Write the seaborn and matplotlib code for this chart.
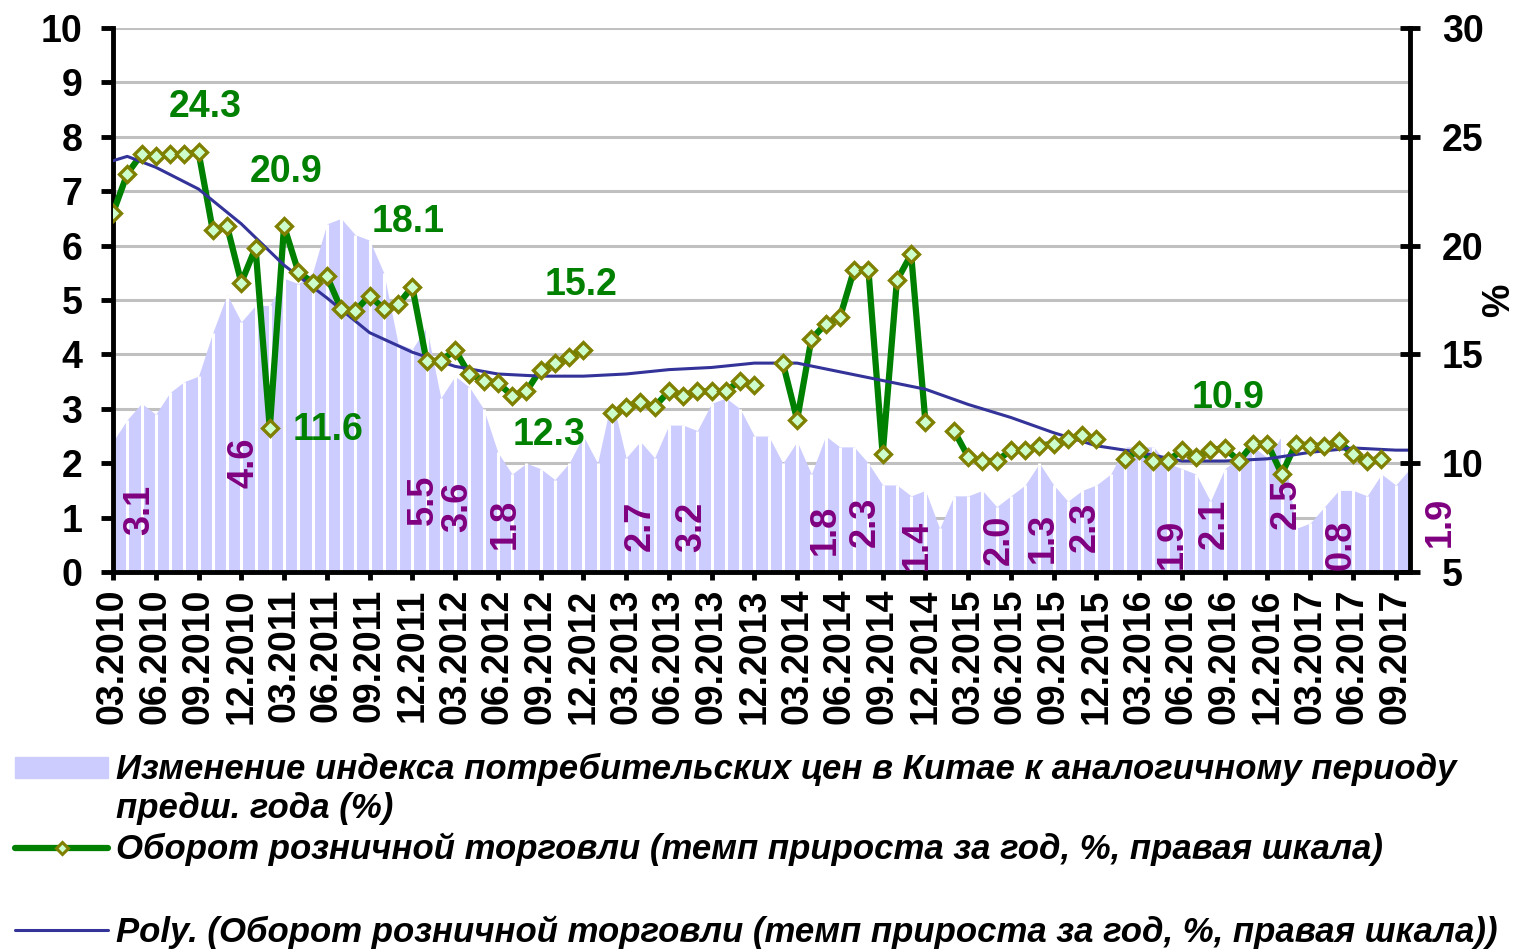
import numpy as np
import pandas as pd
import matplotlib
matplotlib.use("Agg")
from matplotlib import pyplot as plt
from matplotlib.lines import Line2D
from matplotlib.patches import Rectangle
import seaborn as sns

# monthly categories 03.2010 .. 10.2017
months = pd.date_range("2010-03-01", "2017-10-01", freq="MS")

# CPI, % y/y (left axis)
cpi = [2.4, 2.8, 3.1, 2.9, 3.3, 3.5, 3.6, 4.4, 5.1, 4.6,
       4.9, 4.9, 5.4, 5.3, 5.5, 6.4, 6.5, 6.2, 6.1, 5.5, 4.2, 4.1,
       4.5, 3.2, 3.6, 3.4, 3.0, 2.2, 1.8, 2.0, 1.9, 1.7, 2.0, 2.5,
       2.0, 3.2, 2.1, 2.4, 2.1, 2.7, 2.7, 2.6, 3.1, 3.2, 3.0, 2.5,
       2.5, 2.0, 2.4, 1.8, 2.5, 2.3, 2.3, 2.0, 1.6, 1.6, 1.4, 1.5,
       0.8, 1.4, 1.4, 1.5, 1.2, 1.4, 1.6, 2.0, 1.6, 1.3, 1.5, 1.6,
       1.8, 2.3, 2.3, 2.3, 2.0, 1.9, 1.8, 1.3, 1.9, 2.1, 2.3, 2.1,
       2.5, 0.8, 0.9, 1.2, 1.5, 1.5, 1.4, 1.8, 1.6, 1.9]

# retail sales growth, % (right axis); nan = no January figure
nan = np.nan
retail = [21.5, 23.3, 24.2, 24.1, 24.2, 24.2, 24.3, 20.7, 20.9, 18.3,
          19.9, 11.6, 20.9, 18.8, 18.3, 18.6, 17.1, 17.0, 17.7, 17.1, 17.3, 18.1,
          14.7, 14.7, 15.2, 14.1, 13.8, 13.7, 13.1, 13.3, 14.3, 14.6, 14.9, 15.2,
          nan, 12.3, 12.6, 12.8, 12.6, 13.3, 13.1, 13.3, 13.3, 13.3, 13.8, 13.6,
          nan, 14.6, 12.0, 15.7, 16.4, 16.7, 18.9, 18.9, 10.4, 18.4, 19.6, 11.9,
          nan, 11.5, 10.3, 10.1, 10.1, 10.6, 10.6, 10.8, 10.9, 11.1, 11.3, 11.1,
          nan, 10.2, 10.6, 10.1, 10.1, 10.6, 10.3, 10.6, 10.7, 10.1, 10.9, 10.9,
          9.5, 10.9, 10.8, 10.8, 11.0, 10.4, 10.1, 10.2, nan, nan]

# polynomial trend (month index, value)
trend_idx = [0, 1, 3, 6, 9, 12, 15, 18, 21, 24, 27, 30, 33, 36, 39, 42, 45,
             48, 51, 54, 57, 60, 63, 66, 69, 72, 75, 78, 81, 84, 87, 90, 91]
trend_val = [23.9, 24.1, 23.6, 22.6, 21.0, 19.1, 17.6, 16.0, 15.1, 14.45, 14.1,
             14.0, 14.0, 14.1, 14.3, 14.4, 14.6, 14.6, 14.2, 13.8, 13.4, 12.7,
             12.1, 11.4, 10.8, 10.5, 10.1, 10.1, 10.2, 10.5, 10.7, 10.6, 10.6]

# data labels
green_lbl = ["24.3", "20.9", "18.1", "15.2", "11.6", "12.3", "10.9"]
green_x = [6.46, 12.14, 20.7, 32.84, 15.09, 30.6, 78.25]
green_y = [26.37, 23.38, 21.08, 18.19, 11.53, 11.3, 13.0]

purple_lbl = ["3.1", "4.6", "5.5", "3.6", "1.8", "2.7", "3.2", "1.8", "2.3",
              "1.4", "2.0", "1.3", "2.3", "1.9", "2.1", "2.5", "0.8", "1.9"]
purple_x = [1.89, 9.19, 21.8, 24.15, 27.5, 37.0, 40.6, 50.0, 52.8,
            56.4, 62.2, 65.3, 68.2, 74.3, 77.3, 82.3, 86.2, 93.1]
purple_y = [1.15, 2.0, 1.33, 1.2, 0.88, 0.85, 0.83, 0.78, 0.92,
            0.5, 0.6, 0.62, 0.83, 0.52, 0.88, 1.25, 0.5, 0.92]

leg_cpi = ("Изменение индекса потребительских цен в Китае к аналогичному периоду\n"
           "предш. года (%)")
leg_retail = "Оборот розничной торговли (темп прироста за год, %, правая шкала)"
leg_poly = "Poly. (Оборот розничной торговли (темп прироста за год, %, правая шкала))"

sns.set_theme(style="white")
plt.rcParams["font.family"] = ["Liberation Sans", "DejaVu Sans"]
plt.rcParams["font.weight"] = "bold"
for key in ("text.color", "axes.labelcolor", "xtick.color", "ytick.color"):
    plt.rcParams[key] = "black"

W, H = 1525, 950
fig = plt.figure(figsize=(W / 100, H / 100), dpi=100)
ax = fig.add_axes([113 / W, 1 - 572 / H, 1297 / W, 544 / H])
ax2 = ax.twinx()

df = pd.DataFrame({"i": np.arange(len(months)), "cpi": cpi, "retail": retail})
df["seg"] = df["retail"].isna().cumsum()
seg_df = df.dropna(subset=["retail"])
tr = pd.DataFrame({"i": trend_idx, "v": trend_val})

# CPI area with white drop lines
ax.fill_between(df["i"], df["cpi"], color="#CCCCFF", lw=0, zorder=2)
ax.vlines(df["i"][1:], 0, df["cpi"][1:], color="white", lw=2.2, zorder=3)

ax.set_xlim(0, 91)
ax.set_ylim(0, 10)
ax.set_yticks(range(0, 11))
ax.set_axisbelow(True)
ax.yaxis.grid(True, color="#C0C0C0", lw=2.2)
ax.xaxis.grid(False)
ax.set_xticks(range(0, 91, 3))
ax.set_xticklabels([m.strftime("%m.%Y") for m in months[::3]][:31],
                   rotation=90, fontsize=27, fontweight="bold", color="black")
ax.tick_params(axis="y", direction="out", length=9, width=3.5, labelsize=27,
               pad=13, left=True, colors="black")
ax.tick_params(axis="x", direction="out", length=6, width=3.5, pad=6,
               bottom=True, colors="black")
for lab in ax.get_yticklabels():
    lab.set_fontweight("bold")

# retail line on right axis
sns.lineplot(data=seg_df, x="i", y="retail", units="seg", estimator=None,
             color="#008000", lw=4.5, ax=ax2, zorder=3, legend=False)
sns.lineplot(data=tr, x="i", y="v", color="#333399", lw=2.2, ax=ax2,
             zorder=4, legend=False)
ax2.plot(seg_df["i"], seg_df["retail"], ls="none", marker="D", ms=8,
         mfc="#CCFFCC", mec="#808000", mew=2.4, zorder=5)

ax2.set_ylim(5, 30)
ax2.set_yticks(range(5, 31, 5))
ax2.tick_params(axis="y", direction="inout", length=14, width=3.5,
                labelsize=27, pad=16, right=True, colors="black")
for lab in ax2.get_yticklabels():
    lab.set_fontweight("bold")
ax2.set_xlabel("")
ax2.set_ylabel("%", fontsize=27, fontweight="bold", rotation=90, labelpad=-2,
               color="black")
ax.set_xlabel("")
ax.set_ylabel("")

for a in (ax, ax2):
    for s in a.spines.values():
        s.set_visible(False)
ax.spines["left"].set_visible(True)
ax.spines["bottom"].set_visible(True)
ax2.spines["right"].set_visible(True)
for s in (ax.spines["left"], ax.spines["bottom"], ax2.spines["right"]):
    s.set_color("black")
    s.set_linewidth(3.5)
    s.set_zorder(6)

for t, x, y in zip(green_lbl, green_x, green_y):
    ax2.text(x, y, t, color="#008000", fontsize=27, fontweight="bold",
             ha="center", va="center", zorder=7)
for t, x, y in zip(purple_lbl, purple_x, purple_y):
    ax.text(x, y, t, color="#800080", fontsize=26, fontweight="bold",
            rotation=90, ha="center", va="center", zorder=7, clip_on=False)

# legend drawn below the plot
fx = lambda px: px / W
fy = lambda py: 1 - py / H
fig.patches.append(Rectangle((fx(15), fy(778)), fx(93), 21 / H,
                             transform=fig.transFigure, color="#CCCCFF"))
fig.lines.append(Line2D([fx(15), fx(108)], [fy(848), fy(848)], color="#008000",
                        lw=4.5, solid_capstyle="round", transform=fig.transFigure))
fig.lines.append(Line2D([fx(62)], [fy(848)], ls="none", marker="D", ms=6.5,
                        mfc="#CCFFCC", mec="#808000", mew=2.2,
                        transform=fig.transFigure))
fig.lines.append(Line2D([fx(15), fx(108)], [fy(930), fy(930)], color="#333399",
                        lw=2.2, transform=fig.transFigure))
leg_kw = dict(fontsize=25, fontweight="bold", fontstyle="italic", ha="left",
              va="center", linespacing=1.25, color="black")
fig.text(fx(116), fy(789), leg_cpi, **leg_kw)
fig.text(fx(116), fy(849), leg_retail, **leg_kw)
fig.text(fx(116), fy(932), leg_poly, **leg_kw)

fig.savefig("out.png", dpi=100)
